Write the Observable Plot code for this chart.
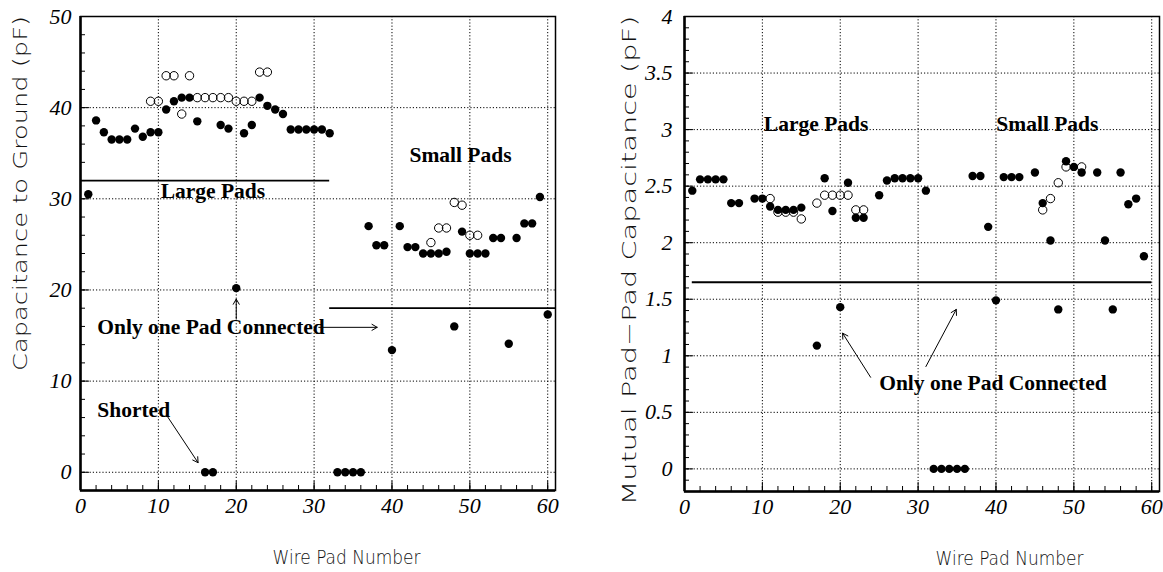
<!DOCTYPE html>
<html><head><meta charset="utf-8">
<script src="https://cdn.jsdelivr.net/npm/d3@7"></script>
<script src="https://cdn.jsdelivr.net/npm/@observablehq/plot@0.6"></script>
<style>
html,body{margin:0;padding:0;background:#fff;}
#wrap{display:flex;width:1163px;height:572px;overflow:hidden;}
#wrap svg{display:block;flex:none;}
</style></head><body><div id="wrap"></div>
<script>
// ---- tick labels ----
const wireTicks = [0, 10, 20, 30, 40, 50, 60];
const groundTicks = [0, 10, 20, 30, 40, 50];
const mutualTicks = [0, 0.5, 1, 1.5, 2, 2.5, 3, 3.5, 4];

// ---- left panel: capacitance to ground (pF) ----
const groundFilledWire = [1,2,3,4,5,6,7,8,9,10,11,12,13,14,15,16,17,18,19,20,21,22,23,24,25,26,27,28,29,30,31,32,33,34,35,36,37,38,39,40,41,42,43,44,45,46,47,48,49,50,51,52,53,54,55,56,57,58,59,60];
const groundFilledCap = [30.5,38.6,37.3,36.5,36.5,36.5,37.7,36.8,37.3,37.3,
  39.8,40.7,41.1,41.1,38.5,0,0,38.1,37.7,20.2,
  37.2,38.1,41.1,40.2,39.8,39.3,37.6,37.6,37.6,37.6,
  37.6,37.2,0,0,0,0,27.0,24.9,24.9,13.4,
  27.0,24.7,24.7,24.0,24.0,24.0,24.2,16.0,26.4,24.0,
  24.0,24.0,25.7,25.7,14.1,25.7,27.3,27.3,30.2,17.3];
const groundOpenWire = [9,10,11,12,13,14,15,16,17,18,19,20,21,22,23,24,45,46,47,48,49,50,51];
const groundOpenCap = [40.7,40.7,43.5,43.5,39.3,43.5,41.1,41.1,41.1,41.1,41.1,40.7,40.7,40.7,43.9,43.9,25.2,26.8,26.8,29.6,29.3,26.0,26.0];
const groundLargeCut = 32;
const groundSmallCut = 18;

// ---- right panel: mutual pad-pad capacitance (pF) ----
const mutualFilledWire = [1,2,3,4,5,6,7,9,10,11,12,13,14,15,17,18,19,20,21,22,23,25,26,27,28,29,30,31,32,33,34,35,36,37,38,39,40,41,42,43,45,46,47,48,49,50,51,53,54,55,56,57,58,59];
const mutualFilledCap = [2.46,2.56,2.56,2.56,2.56,2.35,2.35,
  2.39,2.39,2.32,2.29,2.29,2.29,2.31,
  1.09,2.57,2.28,1.43,2.53,2.22,2.22,
  2.42,2.55,2.57,2.57,2.57,2.57,2.46,
  0,0,0,0,0,
  2.59,2.59,2.14,1.49,2.58,2.58,2.58,
  2.62,2.35,2.02,1.41,2.72,2.67,2.62,
  2.62,2.02,1.41,2.62,2.34,2.39,1.88];
const mutualOpenWire = [11,12,13,14,15,17,18,19,20,21,22,23,46,47,48,49,51];
const mutualOpenCap = [2.39,2.27,2.27,2.27,2.21,2.35,2.42,2.42,2.42,2.42,2.29,2.29,2.29,2.39,2.53,2.67,2.67];
const mutualCut = 1.65;

const serif = "Liberation Serif, Times New Roman, serif";
const sans = "DejaVu Sans, sans-serif";

function panel(cfg) {
  const frameW = cfg.width - cfg.ml - cfg.mr;
  const frameH = cfg.height - cfg.mt - cfg.mb;
  const ann = {fontFamily: serif, fontWeight: "bold", fontSize: 21.5, fill: "black"};
  const marks = [
    // grid
    Plot.ruleX(wireTicks.filter(d => d > 0), {stroke: "black", strokeWidth: 1, strokeDasharray: "1.2,2"}),
    Plot.ruleY(cfg.yTicks, {stroke: "black", strokeWidth: 1, strokeDasharray: "1.2,2"}),
    // inward ticks
    Plot.ruleX(cfg.xMinor, {stroke: "black", strokeWidth: 1, insetTop: frameH - 5}),
    Plot.ruleX(wireTicks, {stroke: "black", strokeWidth: 1, insetTop: frameH - 9}),
    Plot.ruleY(cfg.yMinor, {stroke: "black", strokeWidth: 1, insetRight: frameW - 5}),
    Plot.ruleY(cfg.yTicks, {stroke: "black", strokeWidth: 1, insetRight: frameW - 9}),
    Plot.frame({stroke: "black", strokeWidth: 1.5}),
    Plot.ruleX([0], {stroke: "black", strokeWidth: 2.5}),
    Plot.ruleY([cfg.yDomain[0]], {stroke: "black", strokeWidth: 2.5}),
    ...cfg.extra(ann),
    Plot.dot(cfg.filledWire.map((w, i) => i), {x: i => cfg.filledWire[i], y: i => cfg.filledCap[i], r: 4.2, fill: "black", stroke: "none"}),
    Plot.dot(cfg.openWire.map((w, i) => i), {x: i => cfg.openWire[i], y: i => cfg.openCap[i], r: 4.2, fill: "none", stroke: "black", strokeWidth: 1}),
    Plot.axisX(wireTicks, {tickSize: 0, tickPadding: 7, fontSize: 22, fontFamily: serif, fontStyle: "italic", fill: "black", label: null}),
    Plot.axisY(cfg.yTicks, {tickSize: 0, tickPadding: cfg.yPad, fontSize: 22, fontFamily: serif, fontStyle: "italic", fill: "black", label: null, tickFormat: d => String(d)}),
    Plot.text([cfg.xLabel], {frameAnchor: "bottom", textAnchor: "middle", lineAnchor: "middle", dx: cfg.xLabelDx, dy: 67, fontFamily: sans, fontWeight: 200, fontSize: 20, fill: "#111"}),
    Plot.text([cfg.yLabel], {frameAnchor: "left", textAnchor: "middle", lineAnchor: "middle", rotate: -90, dx: cfg.yLabelDx, dy: cfg.yLabelDy, fontFamily: sans, fontWeight: 200, fontSize: 20, fill: "#111"})
  ];
  const svg = Plot.plot({
    width: cfg.width, height: cfg.height,
    marginLeft: cfg.ml, marginRight: cfg.mr, marginTop: cfg.mt, marginBottom: cfg.mb,
    x: {domain: [0, 61]},
    y: {domain: cfg.yDomain},
    style: {background: "white", color: "black", overflow: "visible"},
    marks
  });
  d3.select(svg).selectAll("text").each(function() {
    const t = this.textContent;
    if (t === cfg.xLabel) { this.setAttribute("textLength", cfg.xLabelLen); this.setAttribute("lengthAdjust", "spacingAndGlyphs"); }
    if (t === cfg.yLabel) { this.setAttribute("textLength", cfg.yLabelLen); this.setAttribute("lengthAdjust", "spacingAndGlyphs"); }
  });
  return svg;
}

const left = panel({
  width: 581, height: 572, ml: 80, mr: 26, mt: 16, mb: 82,
  yDomain: [-2, 50], yTicks: groundTicks, yMinor: d3.range(-2, 50.01, 2), yPad: 9,
  xMinor: d3.range(2, 61, 2),
  filledWire: groundFilledWire, filledCap: groundFilledCap,
  openWire: groundOpenWire, openCap: groundOpenCap,
  xLabel: "Wire Pad Number", xLabelDx: 28.5, xLabelLen: 148,
  yLabel: "Capacitance to Ground (pF)", yLabelDx: -60, yLabelDy: -60, yLabelLen: 355,
  extra: ann => [
    Plot.ruleY([groundLargeCut], {x1: 0, x2: 32, stroke: "black", strokeWidth: 1.8}),
    Plot.ruleY([groundSmallCut], {x1: 32, x2: 61, stroke: "black", strokeWidth: 1.8}),
    Plot.text(["Large Pads"], {x: 17.0, y: 30.8, ...ann}),
    Plot.text(["Small Pads"], {x: 48.8, y: 34.8, ...ann}),
    Plot.text(["Only one Pad Connected"], {x: 2.15, y: 15.9, textAnchor: "start", ...ann}),
    Plot.text(["Shorted"], {x: 2.15, y: 6.8, textAnchor: "start", ...ann}),
    Plot.arrow([0], {x1: 11.1, y1: 6.2, x2: 15.1, y2: 1.05, stroke: "black", strokeWidth: 1, headLength: 9}),
    Plot.arrow([0], {x1: 20, y1: 16.8, x2: 20, y2: 19.0, stroke: "black", strokeWidth: 1, headLength: 9}),
    Plot.arrow([0], {x1: 30.6, y1: 15.9, x2: 38.1, y2: 15.9, stroke: "black", strokeWidth: 1, headLength: 9})
  ]
});

const right = panel({
  width: 582, height: 572, ml: 103, mr: 4, mt: 16, mb: 81,
  yDomain: [-0.2, 4], yTicks: mutualTicks, yMinor: d3.range(-0.2, 4.001, 0.1), yPad: 12,
  xMinor: d3.range(2, 61, 2),
  filledWire: mutualFilledWire, filledCap: mutualFilledCap,
  openWire: mutualOpenWire, openCap: mutualOpenCap,
  xLabel: "Wire Pad Number", xLabelDx: 87.5, xLabelLen: 148,
  yLabel: "Mutual Pad\u2212Pad Capacitance (pF)", yLabelDx: -55, yLabelDy: 6.6, yLabelLen: 490,
  extra: ann => [
    Plot.ruleY([mutualCut], {x1: 1, x2: 60, stroke: "black", strokeWidth: 1.8}),
    Plot.text(["Large Pads"], {x: 16.9, y: 3.05, ...ann}),
    Plot.text(["Small Pads"], {x: 46.6, y: 3.05, ...ann}),
    Plot.text(["Only one Pad Connected"], {x: 25.0, y: 0.76, textAnchor: "start", ...ann}),
    Plot.arrow([0], {x1: 23.9, y1: 0.81, x2: 20.3, y2: 1.2, stroke: "black", strokeWidth: 1, headLength: 9}),
    Plot.arrow([0], {x1: 31.0, y1: 0.905, x2: 34.9, y2: 1.41, stroke: "black", strokeWidth: 1, headLength: 9})
  ]
});

document.getElementById("wrap").append(left, right);
</script>
</body></html>
